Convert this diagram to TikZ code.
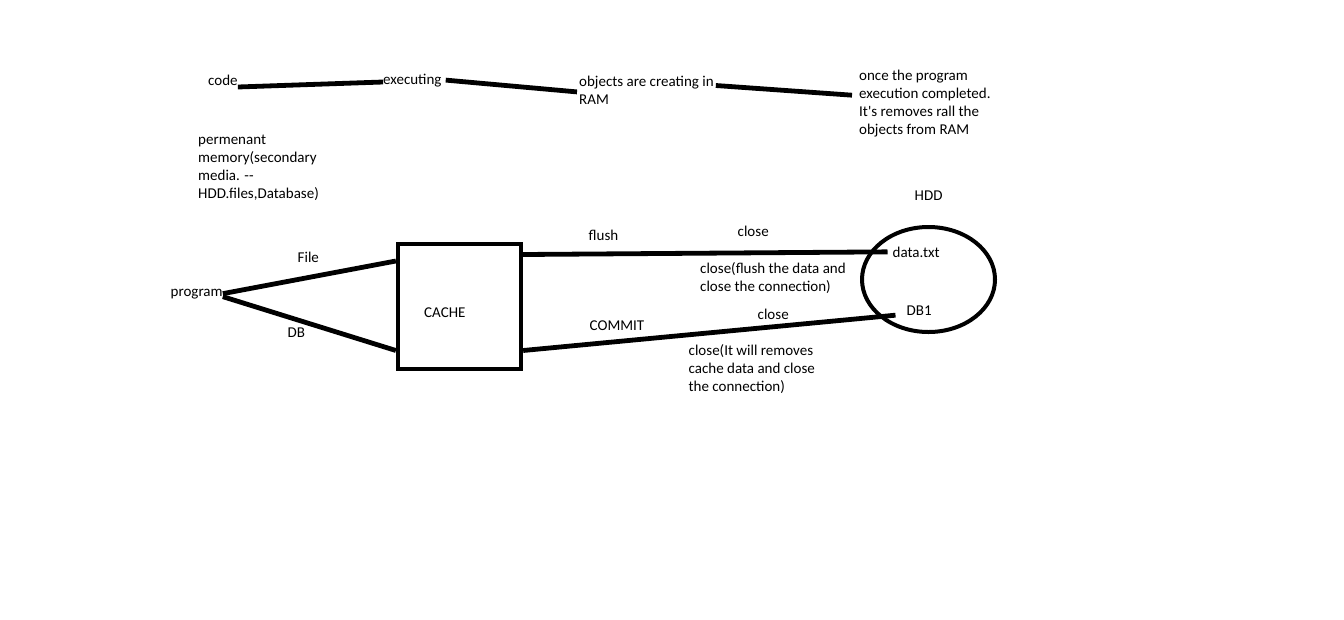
\documentclass[tikz,border=0pt]{standalone}
\usepackage{fontspec}
\setmainfont{Carlito}
\usetikzlibrary{shapes.geometric,positioning}

\begin{document}
\begin{tikzpicture}[
    x=1pt, y=-1pt,
    txt/.style={inner sep=0pt, anchor=base west, font=\fontsize{15}{18}\selectfont},
    note/.style={txt, anchor=north west, align=left},
    box/.style={rectangle, draw, line width=4.3pt, minimum width=123pt, minimum height=125pt},
    store/.style={ellipse, draw, line width=4pt, minimum width=133pt, minimum height=105pt},
    link/.style={line width=4.8pt}
]
    \useasboundingbox (0,0) rectangle (1344,619);

    % top row
    \node[txt] (code) at (208,85) {code};
    \node[txt] (exec) at (383,84) {executing};
    \node[note] (objects) at (579,75.5) {objects are creating in\\RAM};
    \node[note] (once) at (859,69.5) {once the program\\execution completed.\\It\textquotesingle s removes rall the\\objects from RAM};
    \node[note] (perm) at (198,134.5) {permenant\\memory(secondary\\media. {-}{-}\\HDD.files,Database)};

    \draw[link] ([yshift=-2pt]code.base east) -- ([yshift=2pt]exec.base west);
    \draw[link] ([xshift=4pt]exec.east) -- ([xshift=-2pt,yshift=-2pt]objects.west);
    \draw[link] ([xshift=2pt,yshift=-10pt]objects.north east) -- ([xshift=-7pt,yshift=8pt]once.west);

    % lower part
    \node[txt] (prog) at (170.5,296) {program};
    \node[box] (cache) at (459.5,306.5) {};
    \node[txt] (cachetxt) at (424,317) {CACHE};
    \node[store] (hdd) at (928.5,279.5) {};
    \node[txt] (hddtxt) at (914.5,200) {HDD};
    \node[txt] (data) at (892.5,257) {data.txt};
    \node[txt] (db1) at (906.5,315) {DB1};

    \draw[link] (prog.east) -- ([yshift=45.5pt]cache.west);
    \draw[link] ([yshift=-3pt]prog.east) -- ([yshift=-44pt]cache.west);
    \node[txt] (filetxt) at (297.5,262) {File};
    \node[txt] (dbtxt) at (287.5,337) {DB};

    \draw[link] ([yshift=52pt]cache.east) -- ([xshift=-5pt]data.west);
    \draw[link] ([yshift=-44pt]cache.east) -- ([xshift=-11pt,yshift=-5pt]db1.west);

    \node[txt] (flush) at (588.5,240.5) {flush};
    \node[txt] (close1) at (737.5,236.5) {close};
    \node[note] (closenote1) at (700,262.5) {close(flush the data and\\close the connection)};
    \node[txt] (commit) at (589.5,330.5) {COMMIT};
    \node[txt] (close2) at (757.5,319) {close};
    \node[note] (closenote2) at (688.5,344.5) {close(It will removes\\cache data and close\\the connection)};
\end{tikzpicture}
\end{document}
